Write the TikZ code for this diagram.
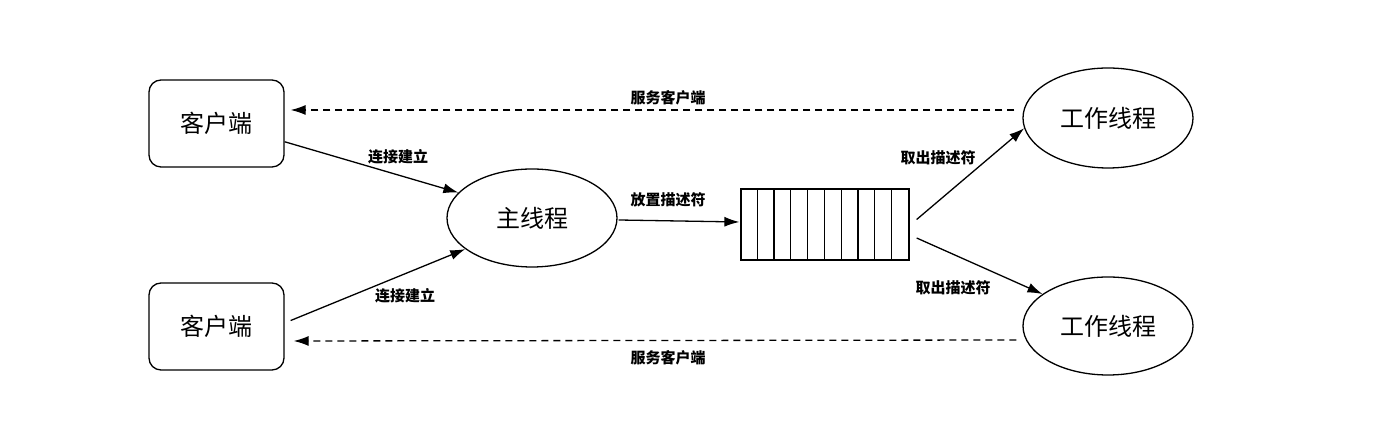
\documentclass[tikz,border=0pt]{standalone}
\usepackage{fontspec}
\newfontfamily\cjk{Noto Sans CJK SC}
\usetikzlibrary{positioning,calc,arrows.meta,shapes.geometric}

\begin{document}
\begin{tikzpicture}[x=1pt,y=1pt]
  \tikzset{
    client/.style={rectangle, rounded corners=12pt, draw=black, line width=1.3pt,
      minimum width=135pt, minimum height=87pt, font=\cjk\fontsize{24}{28}\selectfont},
    thread/.style={ellipse, draw=black, line width=1.3pt,
      minimum width=170pt, minimum height=98pt, inner sep=0pt, font=\cjk\fontsize{24}{28}\selectfont},
    queue/.style={rectangle, draw=black, line width=1.3pt, minimum width=168pt, minimum height=71pt},
    lbl/.style={font=\cjk\bfseries\fontsize{15}{17}\selectfont, inner sep=0pt},
    link/.style={draw=black, line width=1.3pt, -{Latex[length=15pt,width=10pt]}},
    back/.style={link, dash pattern=on 7pt off 5pt}
  }
  \useasboundingbox (0,0) rectangle (1374,446);

  % clients (left), main thread, descriptor queue, workers (right)
  \node[client] (ct) at (216.5,322.5) {客户端};
  \node[client] (cb) at (216.5,119.5) {客户端};
  \node[thread] (mt) at (532,228) {主线程};
  \node[queue]  (q)  at (825,221.5) {};
  \node[thread, minimum height=100pt] (wt) at (1108,328) {工作线程};
  \node[thread] (wb) at (1108,120) {工作线程};

  % queue cells
  \foreach \i in {1,...,9}
    \draw[line width=1.3pt] ($(q.south west)+(16.8*\i,0)$) -- ($(q.north west)+(16.8*\i,0)$);

  % connections
  \draw[link] (ct.-15) -- (mt.161);
  \draw[link] ($(cb.5)+(6,0)$) -- (mt.205);
  \draw[link] ($(mt.east)+(1,-2)$) -- ($(q.west)+(-1,2.5)$);
  \draw[link] ($(q.east)+(7,5)$) -- (wt.187);
  \draw[link] ($(q.east)+(7,-13.5)$) -- (wb.154);

  % replies back to the clients
  \draw[back] ($(wt.west)+(-8,8)$) -- ($(ct.east)+(6,13.5)$);
  \draw[back] ($(wb.west)+(-6,-14)$) -- ($(cb.east)+(9,-14.5)$);

  % edge labels
  \node[lbl] (s1) at (668,348) {服务客户端};
  \node[lbl] (c1) at (398,289) {连接建立};
  \node[lbl] (p1) at (668,246) {放置描述符};
  \node[lbl] (t1) at (938,288) {取出描述符};
  \node[lbl] (c2) at (405,150) {连接建立};
  \node[lbl] (t2) at (953,158) {取出描述符};
  \node[lbl] (s2) at (668,88)  {服务客户端};
\end{tikzpicture}
\end{document}
